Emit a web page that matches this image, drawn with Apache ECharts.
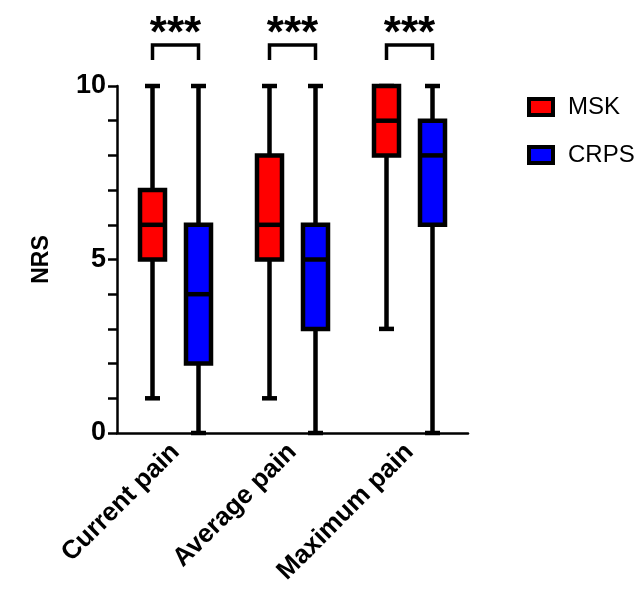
<!DOCTYPE html>
<html>
<head>
<meta charset="utf-8">
<script src="https://cdn.jsdelivr.net/npm/echarts@6/dist/echarts.min.js"></script>
<style>html,body{margin:0;padding:0;background:#fff;}#c{width:643px;height:595px;}</style>
</head>
<body>
<div id="c"></div>
<script>
// Categories and five-number summaries [min, Q1, median, Q3, max]
var categories = ['Current pain', 'Average pain', 'Maximum pain'];
var mskStats = [
  [1, 5, 6, 7, 10],
  [1, 5, 6, 8, 10],
  [3, 8, 9, 10, 10]
];
var crpsStats = [
  [0, 2, 4, 6, 10],
  [0, 3, 5, 6, 10],
  [0, 6, 8, 9, 10]
];
var sigLabels = ['***', '***', '***'];
var yTickLabels = [0, 5, 10];

var FONT = '"Liberation Sans", Arial, sans-serif';

function toData(stats) {
  return stats.map(function (s, i) { return [i].concat(s); });
}

function makeBoxRender(offset, fill) {
  return function (params, api) {
    var c = api.value(0);
    var pMin = api.coord([c, api.value(1)]);
    var pQ1 = api.coord([c, api.value(2)]);
    var pMed = api.coord([c, api.value(3)]);
    var pQ3 = api.coord([c, api.value(4)]);
    var pMax = api.coord([c, api.value(5)]);
    var x = pMed[0] + offset;
    var bw = 25, cap = 15, lw = 4.5;
    var stroke = { stroke: '#000', lineWidth: lw };
    return {
      type: 'group',
      children: [
        { type: 'line', shape: { x1: x, y1: pMin[1], x2: x, y2: pQ1[1] }, style: stroke },
        { type: 'line', shape: { x1: x, y1: pQ3[1], x2: x, y2: pMax[1] }, style: stroke },
        { type: 'line', shape: { x1: x - cap / 2, y1: pMin[1], x2: x + cap / 2, y2: pMin[1] }, style: stroke },
        { type: 'line', shape: { x1: x - cap / 2, y1: pMax[1], x2: x + cap / 2, y2: pMax[1] }, style: stroke },
        { type: 'rect', shape: { x: x - bw / 2, y: pQ3[1], width: bw, height: pQ1[1] - pQ3[1] },
          style: { fill: fill, stroke: '#000', lineWidth: lw } },
        { type: 'line', shape: { x1: x - bw / 2, y1: pMed[1], x2: x + bw / 2, y2: pMed[1] }, style: stroke }
      ]
    };
  };
}

var OFFSET = 23;

var option = {
  backgroundColor: '#fff',
  animation: false,
  textStyle: { fontFamily: FONT },
  grid: { left: 117, right: 175, top: 86, bottom: 162 },
  legend: {
    orient: 'vertical',
    left: 527,
    top: 95,
    padding: 0,
    itemWidth: 24,
    itemHeight: 16,
    itemGap: 24,
    icon: 'rect',
    itemStyle: { borderColor: '#000', borderWidth: 4 },
    textStyle: { fontSize: 24, color: '#000', fontFamily: FONT, padding: [0, 0, 0, 10] },
    data: ['MSK', 'CRPS']
  },
  xAxis: {
    type: 'category',
    data: categories,
    axisLine: { lineStyle: { color: '#000', width: 2.5 } },
    axisTick: { alignWithLabel: true, length: 9, lineStyle: { color: '#000', width: 2.5 } },
    axisLabel: { rotate: 45, fontSize: 26, fontWeight: 'bold', color: '#000', margin: 15, fontFamily: FONT },
    splitLine: { show: false }
  },
  yAxis: {
    type: 'value',
    min: 0, max: 10, interval: 1,
    name: 'NRS',
    nameLocation: 'middle',
    nameGap: 64,
    nameRotate: 90,
    nameTextStyle: { fontSize: 23, fontWeight: 'bold', color: '#000', fontFamily: FONT },
    axisLine: { show: true, lineStyle: { color: '#000', width: 2.5 } },
    axisTick: { show: true, length: 9, lineStyle: { color: '#000', width: 2.5 } },
    axisLabel: {
      fontSize: 27, fontWeight: 'bold', color: '#000', margin: 11, fontFamily: FONT,
      formatter: function (v) { return yTickLabels.indexOf(v) >= 0 ? String(v) : ''; }
    },
    splitLine: { show: false }
  },
  series: [
    {
      name: 'MSK', type: 'custom', itemStyle: { color: '#ff0000' },
      renderItem: makeBoxRender(-OFFSET, '#ff0000'),
      encode: { x: 0, y: [1, 2, 3, 4, 5] },
      data: toData(mskStats), z: 3
    },
    {
      name: 'CRPS', type: 'custom', itemStyle: { color: '#0000ff' },
      renderItem: makeBoxRender(OFFSET, '#0000ff'),
      encode: { x: 0, y: [1, 2, 3, 4, 5] },
      data: toData(crpsStats), z: 3
    },
    {
      name: 'sig', type: 'custom', clip: false, silent: true,
      encode: { x: 0, y: 1 },
      data: sigLabels.map(function (s, i) { return [i, 10]; }),
      renderItem: function (params, api) {
        var c = api.value(0);
        var top = api.coord([c, 11.18]);
        var bot = api.coord([c, 10.75]);
        var st = api.coord([c, 11.48]);
        var x1 = top[0] - OFFSET, x2 = top[0] + OFFSET;
        return {
          type: 'group',
          children: [
            { type: 'polyline', shape: { points: [[x1, bot[1]], [x1, top[1]], [x2, top[1]], [x2, bot[1]]] },
              style: { stroke: '#000', lineWidth: 3.5, fill: null } },
            { type: 'text', x: top[0], y: st[1],
              style: { text: sigLabels[params.dataIndex], fontSize: 44, fontWeight: 'bold',
                fill: '#000', fontFamily: FONT, align: 'center', verticalAlign: 'middle' } }
          ]
        };
      }
    }
  ]
};

var chart = echarts.init(document.getElementById('c'));
chart.setOption(option);
</script>
</body>
</html>
